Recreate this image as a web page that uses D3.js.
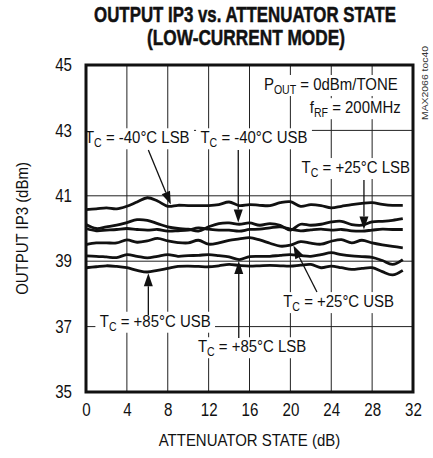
<!DOCTYPE html>
<html>
<head>
<meta charset="utf-8">
<script src="https://cdn.jsdelivr.net/npm/d3@7"></script>
<style>
  body { margin: 0; background: #fff; }
  svg text { font-family: 'Liberation Sans', Arial, sans-serif; fill: #111; }
  .title { font-weight: bold; font-size: 22px; stroke: #111; stroke-width: 0.5px; }
  .tick-label { font-size: 18px; }
  .axis-title { font-size: 17px; }
  .note { font-size: 17px; }
</style>
</head>
<body>
<div id="chart"></div>
<script>
// Data
const states = d3.range(0, 32); // attenuator state, dB

const m40LSB = [40.58, 40.60, 40.63, 40.60, 40.68, 40.81, 40.94, 40.84, 40.68, 40.71,
  40.70, 40.70, 40.70, 40.73, 40.81, 40.70, 40.73, 40.71, 40.70, 40.79,
  40.82, 40.68, 40.73, 40.70, 40.63, 40.68, 40.73, 40.77, 40.79, 40.74, 40.71, 40.71];
const m40USB = [40.12, 40.00, 40.05, 40.10, 40.18, 40.27, 40.25, 40.15, 40.05, 40.00,
  39.98, 39.92, 40.05, 40.15, 40.17, 40.13, 40.17, 40.10, 40.15, 40.10,
  39.95, 40.13, 40.10, 40.13, 40.20, 40.22, 40.12, 40.10, 40.20, 40.22, 40.25, 40.30];
const p25LSB = [40.00, 39.93, 39.95, 39.97, 40.00, 39.97, 39.95, 39.97, 39.92, 39.93,
  39.95, 40.02, 39.98, 39.95, 39.95, 39.92, 39.97, 39.98, 40.02, 40.05,
  39.98, 39.93, 39.96, 39.98, 39.95, 39.97, 39.93, 39.92, 39.95, 39.98, 39.97, 39.97];
const p25USB = [39.51, 39.56, 39.56, 39.56, 39.65, 39.58, 39.62, 39.70, 39.62, 39.57,
  39.56, 39.64, 39.52, 39.56, 39.64, 39.68, 39.72, 39.65, 39.55, 39.46,
  39.49, 39.60, 39.55, 39.52, 39.61, 39.66, 39.56, 39.64, 39.56, 39.50, 39.45, 39.41];
const p85LSB = [39.16, 39.15, 39.13, 39.11, 39.20, 39.15, 39.10, 39.15, 39.20, 39.15,
  39.17, 39.18, 39.20, 39.17, 39.13, 39.05, 39.14, 39.15, 39.15, 39.18,
  39.20, 39.17, 39.15, 39.20, 39.26, 39.20, 39.16, 39.14, 39.12, 39.02, 38.90, 39.05];
const p85USB = [38.80, 38.83, 38.86, 38.84, 38.80, 38.72, 38.67, 38.72, 38.78, 38.84,
  38.85, 38.84, 38.83, 38.86, 38.90, 38.87, 38.85, 38.86, 38.87, 38.86,
  38.85, 38.88, 38.90, 38.80, 38.85, 38.80, 38.75, 38.78, 38.80, 38.68, 38.58, 38.72];

const xTicks = [0, 4, 8, 12, 16, 20, 24, 28, 32];
const yTicks = [35, 37, 39, 41, 43, 45];

const seriesNames = ['-40°C LSB', '-40°C USB', '+25°C LSB', '+25°C USB', '+85°C LSB', '+85°C USB'];
const seriesValues = [m40LSB, m40USB, p25LSB, p25USB, p85LSB, p85USB];

// callouts: text start (state, dBm), arrow start and the state the arrow points to
const callouts = [
  { name: '-40°C LSB', tx: -0.1, ty: 42.61, ax: 6.1, ay: 42.40, px: 8.3, dir: 'down' },
  { name: '-40°C USB', tx: 11.2, ty: 42.61, ax: 14.9, ay: 42.40, px: 14.9, dir: 'down' },
  { name: '+25°C LSB', tx: 21.1, ty: 41.70, ax: 27.2, ay: 41.48, px: 27.2, dir: 'down' },
  { name: '+25°C USB', tx: 19.3, ty: 37.60, ax: 22.6, ay: 38.06, px: 20.3, dir: 'up' },
  { name: '+85°C USB', tx: 1.35, ty: 37.00, ax: 6.1, ay: 37.35, px: 6.1, dir: 'up' },
  { name: '+85°C LSB', tx: 10.95, ty: 36.22, ax: 14.95, ay: 36.65, px: 14.95, dir: 'up' }
];

// Layout
const width = 433, height = 458;
const margin = { top: 65, right: 20, bottom: 66, left: 86 };
const w = width - margin.left - margin.right;
const h = height - margin.top - margin.bottom;
const narrow = 0.88; // the reference uses a condensed face

const xScale = d3.scaleLinear().domain([0, 32]).range([0, w]);
const yScale = d3.scaleLinear().domain([35, 45]).range([h, 0]);

// squeeze plain text to a condensed look
function squeeze(sel, k) {
  sel.each(function() {
    const len = this.getComputedTextLength();
    d3.select(this).attr('textLength', len * k).attr('lengthAdjust', 'spacingAndGlyphs');
  });
}

const root = d3.select('#chart').append('svg')
  .attr('width', width)
  .attr('height', height);

// title, scaled to the reference's width
function titleLine(txt, cx, y, targetW) {
  const g = root.append('g');
  const t = g.append('text').attr('class', 'title')
    .attr('text-anchor', 'middle')
    .text(txt);
  const k = targetW / t.node().getComputedTextLength();
  g.attr('transform', `translate(${cx}, ${y}) scale(${k}, 1)`);
}
titleLine('OUTPUT IP3 vs. ATTENUATOR STATE', 245, 22, 302);
titleLine('(LOW-CURRENT MODE)', 246, 45, 198);

// side code
root.append('text')
  .attr('transform', 'translate(428, 120) rotate(-90)')
  .attr('textLength', 74).attr('lengthAdjust', 'spacingAndGlyphs')
  .style('font-size', '9px')
  .style('fill', '#333')
  .text('MAX2066 toc40');

const svg = root.append('g')
  .attr('transform', `translate(${margin.left}, ${margin.top})`);

// grid
svg.append('g').selectAll('line')
  .data(xTicks.slice(1, -1))
  .enter().append('line')
  .attr('x1', d => xScale(d)).attr('x2', d => xScale(d))
  .attr('y1', 0).attr('y2', h)
  .attr('stroke', '#222').attr('stroke-width', 1);
svg.append('g').selectAll('line')
  .data(yTicks.slice(1, -1))
  .enter().append('line')
  .attr('y1', d => yScale(d)).attr('y2', d => yScale(d))
  .attr('x1', 0).attr('x2', w)
  .attr('stroke', '#222').attr('stroke-width', 1);

// axes labels
const xAxis = d3.axisBottom(xScale).tickValues(xTicks).tickSize(0).tickPadding(11);
const yAxis = d3.axisLeft(yScale).tickValues(yTicks).tickSize(0).tickPadding(14);

svg.append('g')
  .attr('transform', `translate(0, ${h})`)
  .call(xAxis)
  .call(g => g.select('.domain').remove());

svg.append('g')
  .call(yAxis)
  .call(g => g.select('.domain').remove());

root.selectAll('.tick text')
  .attr('class', 'tick-label')
  .attr('fill', '#111')
  .attr('font-family', null)
  .attr('font-size', null)
  .call(squeeze, 0.84);

svg.append('text').attr('class', 'axis-title')
  .attr('x', w / 2).attr('y', h + 54)
  .attr('text-anchor', 'middle')
  .text('ATTENUATOR STATE (dB)')
  .call(squeeze, narrow);

svg.append('text').attr('class', 'axis-title')
  .attr('transform', `translate(${-58}, ${h / 2}) rotate(-90)`)
  .attr('text-anchor', 'middle')
  .text('OUTPUT IP3 (dBm)')
  .call(squeeze, narrow);

// curves
const line = d3.line()
  .x((d, i) => xScale(states[i]))
  .y(d => yScale(d))
  .curve(d3.curveCatmullRom.alpha(0.5));

svg.append('g').selectAll('path')
  .data(seriesValues)
  .enter().append('path')
  .attr('d', line)
  .attr('fill', 'none')
  .attr('stroke', '#111')
  .attr('stroke-width', 2.8)
  .attr('stroke-linejoin', 'round');

// callout text with white box, squeezed horizontally
function boxed(g, x, y, parts, anchor) {
  const grp = g.append('g').attr('transform', `translate(${x}, ${y}) scale(${narrow}, 1)`);
  const rect = grp.append('rect').attr('fill', '#fff');
  const t = grp.append('text').attr('class', 'note').attr('text-anchor', anchor || 'start');
  parts.forEach(p => {
    t.append('tspan')
      .attr('dy', p.dy || 0)
      .style('font-size', p.sub ? '12px' : null)
      .text(p.t);
  });
  const bb = t.node().getBBox();
  rect.attr('x', bb.x - 5).attr('y', bb.y)
    .attr('width', bb.width + 10).attr('height', bb.height);
  return grp;
}

const notes = svg.append('g');

function valueAt(series, s) {
  const i = Math.floor(s), f = s - i;
  const a = series[i], b = series[Math.min(i + 1, series.length - 1)];
  return a + (b - a) * f;
}

callouts.forEach(c => {
  boxed(notes, xScale(c.tx), yScale(c.ty), [
    { t: 'T' }, { t: 'C', sub: true, dy: 4 }, { t: ' = ' + c.name, dy: -4 }
  ]);
  const series = seriesValues[seriesNames.indexOf(c.name)];
  const tipY = yScale(valueAt(series, c.px)) + (c.dir === 'down' ? -1.5 : 1.5);
  const tipX = xScale(c.px);
  const sx = xScale(c.ax), sy = yScale(c.ay);
  const ang = Math.atan2(tipY - sy, tipX - sx);
  const len = 13, half = 4.5;
  const bx = tipX - len * Math.cos(ang), by = tipY - len * Math.sin(ang);
  notes.append('line')
    .attr('x1', sx).attr('y1', sy).attr('x2', bx).attr('y2', by)
    .attr('stroke', '#111').attr('stroke-width', 1.3);
  notes.append('path')
    .attr('d', `M${tipX},${tipY}L${bx - half * Math.sin(ang)},${by + half * Math.cos(ang)}L${bx + half * Math.sin(ang)},${by - half * Math.cos(ang)}Z`)
    .attr('fill', '#111');
});

// conditions
boxed(notes, xScale(30.5), yScale(44.24), [
  { t: 'P' }, { t: 'OUT', sub: true, dy: 4 }, { t: ' = 0dBm/TONE', dy: -4 }
], 'end');
boxed(notes, xScale(21.9), yScale(43.53), [
  { t: 'f' }, { t: 'RF', sub: true, dy: 4 }, { t: ' = 200MHz', dy: -4 }
]);

// frame
svg.append('rect')
  .attr('width', w).attr('height', h)
  .attr('fill', 'none')
  .attr('stroke', '#111')
  .attr('stroke-width', 3);
</script>
</body>
</html>
